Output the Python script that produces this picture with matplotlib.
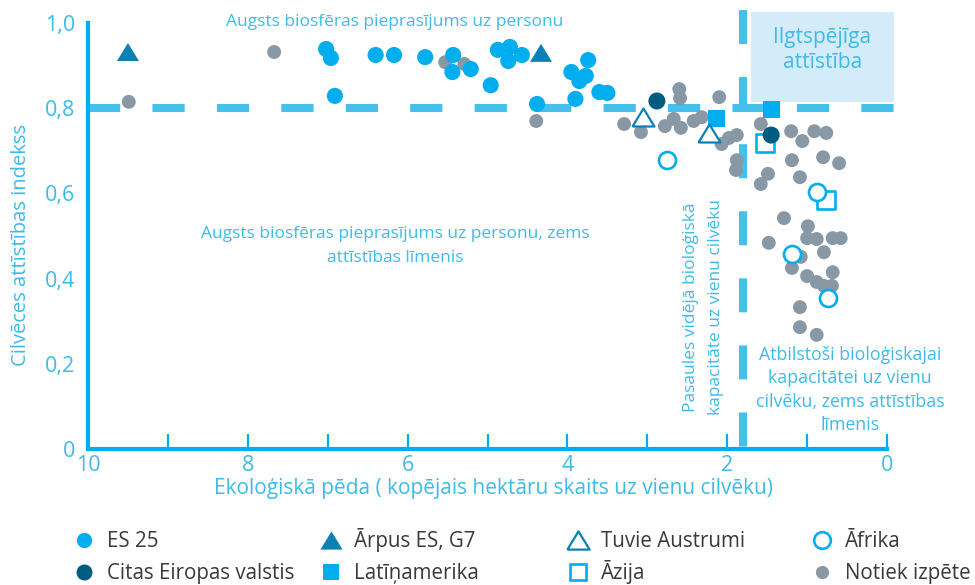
import matplotlib
matplotlib.use('Agg')
import matplotlib.pyplot as plt
from matplotlib.lines import Line2D
from matplotlib.patches import Rectangle

plt.rcParams['font.family'] = ['Open Sans', 'DejaVu Sans']
plt.rcParams['lines.scale_dashes'] = False

# ---------------- data ----------------
es25_x = [7.02, 6.96, 6.91, 6.40, 6.17, 5.78, 5.43, 5.44, 5.21, 4.96, 4.87, 4.72,
          4.74, 4.57, 4.38, 3.95, 3.85, 3.77, 3.74, 3.90, 3.60, 3.50]
es25_y = [0.939, 0.918, 0.829, 0.925, 0.925, 0.920, 0.925, 0.885, 0.892, 0.854, 0.937, 0.944,
          0.911, 0.925, 0.810, 0.885, 0.864, 0.876, 0.913, 0.822, 0.838, 0.836]

g7_x = [9.50, 4.33]
g7_y = [0.932, 0.930]

other_eu_x = [2.88, 1.45]
other_eu_y = [0.817, 0.737]

latam_x = [2.14, 1.45]
latam_y = [0.775, 0.798]

mideast_x = [3.05, 2.23]
mideast_y = [0.779, 0.742]

asia_x = [1.53, 0.76]
asia_y = [0.718, 0.585]

africa_x = [2.75, 0.88, 1.19, 0.74]
africa_y = [0.678, 0.603, 0.458, 0.354]

research_x = [9.49, 7.67, 5.53, 5.29, 4.39, 3.29, 3.08, 2.78, 2.67, 2.58, 2.60, 2.59,
              2.42, 2.32, 2.10, 2.07, 1.98, 1.88, 1.88, 1.89, 1.58, 1.49, 1.58, 1.20,
              1.06, 0.91, 0.76, 1.19, 0.80, 0.60, 1.09, 1.29, 0.99, 1.48, 1.00, 0.88,
              0.68, 0.58, 0.79, 1.08, 1.19, 1.00, 0.88, 0.79, 0.69, 0.68, 1.09, 1.09, 0.88]
research_y = [0.815, 0.932, 0.908, 0.904, 0.770, 0.763, 0.744, 0.758, 0.775, 0.754, 0.845, 0.824,
              0.770, 0.779, 0.826, 0.716, 0.730, 0.737, 0.678, 0.655, 0.763, 0.646, 0.622, 0.746,
              0.723, 0.746, 0.742, 0.678, 0.685, 0.671, 0.638, 0.542, 0.523, 0.484, 0.495, 0.493,
              0.495, 0.495, 0.462, 0.451, 0.425, 0.406, 0.392, 0.383, 0.383, 0.415, 0.333, 0.286, 0.268]

world_biocapacity = 1.8
hdi_threshold = 0.8

x_ticks = [10, 8, 6, 4, 2, 0]
x_tick_labels = ['10', '8', '6', '4', '2', '0']
y_ticks = [0, 0.2, 0.4, 0.6, 0.8, 1.0]
y_tick_labels = ['0', '0,2', '0,4', '0,6', '0,8', '1,0']

labels = ['ES 25', 'Citas Eiropas valstis', 'Ārpus ES, G7', 'Latīņamerika',
          'Tuvie Austrumi', 'Āzija', 'Āfrika', 'Notiek izpēte']

mid_lines = ['Augsts biosfēras pieprasījums uz personu, zems', 'attīstības līmenis']
br_lines = ['Atbilstoši bioloģiskajai', 'kapacitātei uz vienu',
            'cilvēku, zems attīstības', 'līmenis']
vert_lines = ['Pasaules vidējā bioloģiskā', 'kapacitāte uz vienu cilvēku']

# ---------------- style ----------------
AXC = '#00aeef'
TXT = '#3dbbea'
DASH = '#44c0ea'
BLUE = '#00aeef'
NAVY = '#005b82'
TRI = '#0a80b4'
GRAY = '#8898a5'
LEG = '#3a3a3a'
BOX = '#d4ecf9'

tri = [(-1, -0.82), (1, -0.82), (0, 0.82), (-1, -0.82)]

fig = plt.figure(figsize=(9.75, 5.85), dpi=100)
ax = fig.add_axes([88 / 975, 136 / 585, 811 / 975, 443 / 585])
ax.set_xlim(10, -0.15)
ax.set_ylim(0, 1.04)

# sustainable development box
ax.add_patch(Rectangle((-0.09, 0.815), 1.79, 0.212, facecolor=BOX, edgecolor='none',
                       zorder=0.5, clip_on=False))
ax.text(0.81, 0.937, 'Ilgtspējīga\nattīstība', ha='center', va='center', color=TXT,
        fontsize=15, linespacing=1.25, zorder=1)

# dashed reference lines
ax.plot([10, -0.12], [hdi_threshold, hdi_threshold], color=DASH, lw=5.8,
        dashes=(23.2, 23.2), dash_capstyle='butt', zorder=1, clip_on=False)
ax.plot([world_biocapacity, world_biocapacity], [1.03, 0], color=DASH, lw=5.8,
        dashes=(24.5, 23.8), dash_capstyle='butt', zorder=1, clip_on=False)

# points
ax.scatter(research_x, research_y, s=100, color=GRAY, edgecolors='none', zorder=3, clip_on=False)
ax.scatter(es25_x, es25_y, s=135, color=BLUE, edgecolors='none', zorder=4, clip_on=False)
ax.scatter(g7_x, g7_y, s=250, marker=tri, color=TRI, edgecolors='none', zorder=4, clip_on=False)
ax.scatter(other_eu_x, other_eu_y, s=150, color=NAVY, edgecolors='none', zorder=5)
ax.scatter(latam_x, latam_y, s=150, marker='s', color=BLUE, edgecolors='none', zorder=4)
ax.scatter(mideast_x, mideast_y, s=250, marker=tri, facecolors='white', edgecolors=TRI,
           linewidths=1.6, zorder=4)
ax.scatter(asia_x, asia_y, s=150, marker='s', facecolors='white', edgecolors=BLUE,
           linewidths=1.9, zorder=4)
ax.scatter(africa_x, africa_y, s=150, marker='o', facecolors='white', edgecolors=BLUE,
           linewidths=1.9, zorder=4)

# annotations
ax.text(6.16, 1.002, 'Augsts biosfēras pieprasījums uz personu', ha='center', va='center',
        color=TXT, fontsize=12.5)
for txt, yy in zip(mid_lines, [0.495, 0.439]):
    ax.text(6.16, yy, txt, ha='center', va='baseline', color=TXT, fontsize=12.5)
for txt, xx in zip(vert_lines, [2.45, 2.14]):
    ax.text(xx, 0.333, txt, rotation=90, ha='center', va='center', color=TXT, fontsize=12.5)
for txt, yy in zip(br_lines, [0.209, 0.155, 0.099, 0.045]):
    ax.text(0.46, yy, txt, ha='center', va='baseline', color=TXT, fontsize=12.8, clip_on=False)

# axes styling
for s in ['top', 'right']:
    ax.spines[s].set_visible(False)
for s in ['left', 'bottom']:
    ax.spines[s].set_color(AXC)
    ax.spines[s].set_linewidth(3)
ax.spines['left'].set_bounds(0, 1.0)
ax.spines['bottom'].set_bounds(0, 10)

ax.set_xticks(x_ticks)
ax.set_xticklabels(x_tick_labels)
ax.set_xticks(range(0, 11), minor=True)
ax.tick_params(axis='x', which='both', direction='in', length=11, width=1.6, color=AXC,
               labelcolor=TXT, labelsize=15.5, pad=4)
ax.set_yticks(y_ticks)
ax.set_yticklabels(y_tick_labels)
ax.set_yticks([1.0], minor=True)
ax.tick_params(axis='y', which='major', length=0, labelcolor=TXT, labelsize=15.5, pad=9)
ax.tick_params(axis='y', which='minor', direction='in', length=13, width=2.2, color=AXC)

ax.set_xlabel('Ekoloģiskā pēda ( kopējais hektāru skaits uz vienu cilvēku)', color=TXT,
              fontsize=15, labelpad=2)
ax.set_ylabel('Cilvēces attīstības indekss', color=TXT, fontsize=14.5)
ax.yaxis.set_label_coords(-0.07, 0.46)

# legend: one entry per slot (4 columns x 2 rows)
def h(marker, ms, fc, ec, mew=0):
    return Line2D([], [], marker=marker, linestyle='none', markersize=ms,
                  markerfacecolor=fc, markeredgecolor=ec, markeredgewidth=mew)

handles = [h('o', 11, BLUE, BLUE), h('o', 11.5, NAVY, NAVY),
           h(tri, 16, TRI, TRI), h('s', 12, BLUE, BLUE),
           h(tri, 16, 'white', TRI, 1.6), h('s', 12, 'white', BLUE, 1.9),
           h('o', 12, 'white', BLUE, 1.9), h('o', 9.5, GRAY, GRAY)]
col_x = [84, 331, 578, 822]
row_bottom = [552, 584]
fs = 14.8
half_handle = fs * 100 / 72 / 2
for i, (hd, lb) in enumerate(zip(handles, labels)):
    mx = col_x[i // 2]
    yb = row_bottom[i % 2]
    fig.legend([hd], [lb], loc='lower left',
               bbox_to_anchor=((mx - half_handle) / 975, 1 - yb / 585),
               frameon=False, fontsize=fs, labelcolor=LEG, handlelength=1.0,
               handletextpad=0.62, borderpad=0, borderaxespad=0)

fig.savefig('out.png', dpi=100)
